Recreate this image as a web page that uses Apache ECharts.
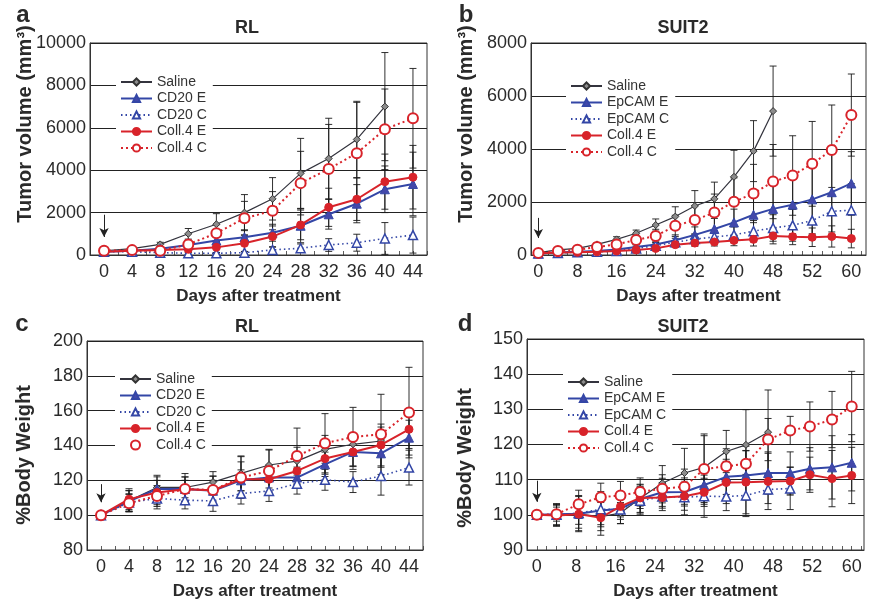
<!DOCTYPE html>
<html><head><meta charset="utf-8">
<script src="https://cdn.jsdelivr.net/npm/echarts@6/dist/echarts.min.js"></script>
<style>html,body{margin:0;padding:0;background:#fff}#c{width:874px;height:602px}</style>
</head><body><div id="c"></div>
<script>
// ---------- tick labels ----------
const xTicksAC = [0,4,8,12,16,20,24,28,32,36,40,44];
const xTickTextAC = ['0','4','8','12','16','20','24','28','32','36','40','44'];
const xTicksBD = [0,8,16,24,32,40,48,56,64];
const xTickTextBD = ['0','8','16','24','32','40','48','52','60'];

// ---------- panel a : RL tumor volume ----------
const daysA = [0,4,8,12,16,20,24,28,32,36,40,44];
const aSaline   = [200,300,500,1000,1450,2000,2650,3850,4550,5450,7000];
const aSalineSd = [30,60,100,250,500,850,1000,1650,1900,1800,2550];
const aCD20E    = [150,200,300,470,680,840,1050,1380,1920,2420,3100,3350];
const aCD20ESd  = [30,40,60,150,300,350,400,800,700,900,1100,1500];
const aCD20C    = [150,150,110,80,80,110,240,320,470,580,780,940];
const aCD20CSd  = [20,30,30,40,40,60,150,200,300,400,750,850];
const aCollE    = [150,200,230,270,360,550,870,1420,2250,2630,3460,3670];
const aCollESd  = [30,40,60,120,250,400,500,700,900,1000,1300,1500];
const aCollC    = [200,230,200,500,1030,1730,2090,3390,4060,4800,5930,6450];
const aCollCSd  = [30,50,80,200,400,800,900,1500,2100,2400,1900,2350];

// ---------- panel b : SUIT2 tumor volume ----------
const daysB = [0,4,8,12,16,20,24,28,32,36,40,44,48,52,56,60,64];
const bSaline   = [90,190,250,400,590,820,1130,1450,1850,2120,2950,3920,5430];
const bSalineSd = [20,30,40,60,100,120,230,370,580,630,1000,1150,1700];
const bEpE      = [60,90,120,150,210,300,400,560,760,980,1230,1520,1740,1900,2100,2370,2700];
const bEpESd    = [20,30,40,50,60,80,120,200,300,400,500,700,900,1100,1300,1500,1200];
const bEpC      = [60,80,100,120,150,250,350,480,600,680,760,900,1020,1120,1300,1650,1690];
const bEpCSd    = [20,30,30,40,50,60,100,150,200,250,300,400,500,600,700,900,1000];
const bCollE    = [60,90,100,120,150,190,250,390,450,490,550,590,720,690,670,700,620];
const bCollESd  = [20,30,30,40,50,60,80,100,120,150,200,250,300,300,350,400,350];
const bCollC    = [80,150,200,300,400,570,720,1100,1320,1600,2010,2320,2770,3000,3440,3960,5280];
const bCollCSd  = [20,40,60,80,120,180,250,400,550,700,900,1100,1400,1500,1600,1700,1550];

// ---------- panel c : RL body weight ----------
const daysC = [0,4,8,12,16,20,24,28,32,36,40,44];
const cSaline   = [100,108.2,115.9,115.9,119,124,128.8,131,137.8,140.7,142.6];
const cSalineSd = [0,6,7,8,6,10,9,8,8,6,8];
const cCD20E    = [100,108,115,115,114,120,121.6,121.6,129.2,136.3,135.5,144.5];
const cCD20ESd  = [0,6,7,7,6,6,6,6,7,8,8,10];
const cCD20C    = [100,107.3,109.6,108.6,108.2,112.4,113.9,118.1,120.3,119,122.5,127.3];
const cCD20CSd  = [0,5,6,5,6,6,6,6,6,6,11,10];
const cCollE    = [100,109.2,113,114.9,114.3,120.6,120.6,125.4,132.5,136.3,140.3,149.3];
const cCollESd  = [0,6,7,7,8,10,8,8,9,10,12,11];
const cCollC    = [100,106.9,111,115,114.5,121.6,125.4,134,141.3,144.9,146.4,158.9];
const cCollCSd  = [0,5,6,5,8,12,12,16,17,17,23,26];

// ---------- panel d : SUIT2 body weight ----------
const daysD = [0,4,8.5,13,17,21,25.5,30,34,38.5,42.5,47,51.5,55.5,60,64];
const dSaline   = [100,99.8,100.2,99.5,100.5,104.7,109,111.9,113.5,118,119.9,123.5];
const dSalineSd = [0,3,5,4,3,4,5,7,9,6,10,12];
const dEpE      = [100,100.2,100.3,101.2,101.7,104.5,106.4,106.5,108.5,110.8,111.2,111.9,111.9,113.1,113.5,114.8];
const dEpESd    = [0,2,3,4,3,4,4,4,5,5,7,6,6,6,9,8];
const dEpC      = [100,100,100.5,101.6,101.5,104,105.2,105,105.3,105.2,105.5,107.2,107.5];
const dEpCSd    = [0,3,5,5,4,4,4,5,6,4,6,4,6];
const dCollE    = [100,99.8,100.2,99.2,102.4,104.8,104.9,105.3,106.4,109.2,109.3,109.5,109.6,111.4,110.3,111.2];
const dCollESd  = [0,3,4,5,3,3,3,4,4,6,9,8,4,5,8,8];
const dCollC    = [100,100.2,103,105,105.5,106.5,107.4,108,113,113.8,114.5,121.4,124,125.1,127.1,130.8];
const dCollCSd  = [0,3,4,4,4,4,4,5,10,5,5,6,4,7,8,10];

// treatment arrows (value range on y axis at day 0)
const arrowA = [1900, 850];
const arrowB = [1400, 640];
const arrowC = [117.8, 107.4];
const arrowD = [109.7, 103.7];

// ---------- styles ----------
const ST = {
  saline: {color:'#34343e', width:1.2, type:'solid', symbol:'diamond', size:7, fill:'#8c8c8c', border:'#333', bw:1},
  E:      {color:'#3346a6', width:2, type:'solid', symbol:'triangle', size:9, fill:'#4348aa', border:'#3346a6', bw:1},
  C:      {color:'#3346a6', width:1.6, type:[1.5,3], symbol:'triangle', size:9, fill:'#fff', border:'#3346a6', bw:1.5},
  collE:  {color:'#d8232a', width:2, type:'solid', symbol:'circle', size:8, fill:'#d8232a', border:'#d8232a', bw:1},
  collC:  {color:'#d8232a', width:2, type:[2,3], symbol:'circle', size:10, fill:'#fff', border:'#d8232a', bw:2}
};
const FONT = 'Liberation Sans, Arial, Helvetica, sans-serif';

const series = [];
function addLine(p, name, days, vals, st, arrow) {
  const s = {
    type:'line', name, xAxisIndex:p, yAxisIndex:p, z:3,
    data: vals.map((v,i)=>[days[i], v]),
    symbol: st.symbol, symbolSize: st.size, showSymbol:true,
    lineStyle:{color:st.color, width:st.width, type:st.type},
    itemStyle:{color:st.fill, borderColor:st.border, borderWidth:st.bw},
    emphasis:{disabled:true}, animation:false
  };
  if (arrow) {
    s.markLine = {
      silent:true, symbol:['none','arrow'], symbolSize:[7,9],
      lineStyle:{color:'#222', width:1, type:'solid'}, label:{show:false},
      data:[[{coord:[0, arrow[0]]},{coord:[0, arrow[1]]}]]
    };
  }
  series.push(s);
}
function addErr(p, days, vals, sds) {
  series.push({
    type:'custom', name:'err', xAxisIndex:p, yAxisIndex:p, z:2, clip:true, silent:true,
    data: vals.map((v,i)=>[days[i], v, sds[i]]),
    encode:{x:0, y:1},
    renderItem(params, api) {
      const x = api.value(0), y = api.value(1), s = api.value(2);
      if (!s) return;
      const t = api.coord([x, y + s]), b = api.coord([x, y - s]);
      const c = 3.5, sty = {stroke:'#1a1a1a', lineWidth:0.9};
      return {type:'group', children:[
        {type:'line', shape:{x1:t[0], y1:t[1], x2:b[0], y2:b[1]}, style:sty},
        {type:'line', shape:{x1:t[0]-c, y1:t[1], x2:t[0]+c, y2:t[1]}, style:sty},
        {type:'line', shape:{x1:b[0]-c, y1:b[1], x2:b[0]+c, y2:b[1]}, style:sty}
      ]};
    },
    animation:false
  });
}
function panel(p, days, d, arrow) {
  d.forEach(r => addErr(p, days, r[1], r[2]));
  d.forEach((r,i) => addLine(p, r[0], days, r[1], r[3], i===0 ? arrow : null));
}

panel(0, daysA, [
  ['Saline', aSaline, aSalineSd, ST.saline],
  ['CD20 E', aCD20E, aCD20ESd, ST.E],
  ['CD20 C', aCD20C, aCD20CSd, ST.C],
  ['Coll.4 E', aCollE, aCollESd, ST.collE],
  ['Coll.4 C', aCollC, aCollCSd, ST.collC]], arrowA);
panel(1, daysB, [
  ['Saline', bSaline, bSalineSd, ST.saline],
  ['EpCAM E', bEpE, bEpESd, ST.E],
  ['EpCAM C', bEpC, bEpCSd, ST.C],
  ['Coll.4 E', bCollE, bCollESd, ST.collE],
  ['Coll.4 C', bCollC, bCollCSd, ST.collC]], arrowB);
panel(2, daysC, [
  ['Saline', cSaline, cSalineSd, ST.saline],
  ['CD20 E', cCD20E, cCD20ESd, ST.E],
  ['CD20 C', cCD20C, cCD20CSd, ST.C],
  ['Coll.4 E', cCollE, cCollESd, ST.collE],
  ['Coll.4 C', cCollC, cCollCSd, ST.collC]], arrowC);
panel(3, daysD, [
  ['Saline', dSaline, dSalineSd, ST.saline],
  ['EpCAM E', dEpE, dEpESd, ST.E],
  ['EpCAM C', dEpC, dEpCSd, ST.C],
  ['Coll.4 E', dCollE, dCollESd, ST.collE],
  ['Coll.4 C', dCollC, dCollCSd, ST.collC]], arrowD);

const grids = [
  {left:90, top:43, width:337, height:212},
  {left:531, top:43, width:335, height:212},
  {left:87, top:341, width:336, height:209},
  {left:527, top:339, width:337, height:211}
].map(g => Object.assign(g, {show:true, borderColor:'#333', borderWidth:1, backgroundColor:'transparent'}));

function minorTicks(from, to) { const a=[]; for (let v=from; v<=to; v+=2) a.push(v); return a; }
function xAxis(p, min, max, pos, txt) {
  return {
    type:'value', gridIndex:p, min, max,
    axisLine:{show:true, onZero:false, lineStyle:{color:'#333', width:1}},
    axisTick:{show:true, inside:true, length:4, customValues:minorTicks(0, max), lineStyle:{color:'#333', width:0.8}},
    axisLabel:{customValues:pos, formatter:v => txt[pos.indexOf(v)], fontSize:18, color:'#2a2a2a', margin:8, fontFamily:FONT},
    splitLine:{show:false},
    name:'Days after treatment', nameLocation:'middle', nameGap:33,
    nameTextStyle:{fontSize:17, fontWeight:'bold', color:'#2a2a2a', fontFamily:FONT}
  };
}
function yAxis(p, min, max, interval) {
  return {
    type:'value', gridIndex:p, min, max, interval,
    axisLine:{show:true, onZero:false, lineStyle:{color:'#333'}},
    axisTick:{show:false},
    axisLabel:{fontSize:18, color:'#2a2a2a', margin:4, fontFamily:FONT, formatter:v => String(v)},
    splitLine:{show:true, lineStyle:{color:'#222', width:1}}
  };
}

function legend(left, top, names, cIcon) {
  return {
    orient:'vertical', left, top, itemWidth:31, itemHeight:9, itemGap:2.5,
    padding:[3,6,3,4], backgroundColor:'#fff', z:10,
    textStyle:{fontSize:14, color:'#333', fontFamily:FONT, lineHeight:14},
    selectedMode:false,
    data: names.map(n => (cIcon && n === 'Coll.4 C') ? {name:n, icon:'emptyCircle', itemStyle:{color:'#d8232a', borderColor:'#d8232a', borderWidth:1.5}} : n)
  };
}

function txt(text, x, y, size, extra) {
  return Object.assign({type:'text', x, y, style:{text, fontSize:size, fontWeight:'bold', fill:'#2a2a2a', fontFamily:FONT, align:'center', verticalAlign:'middle'}}, extra||{});
}

const chart = echarts.init(document.getElementById('c'), null, {renderer:'canvas'});
chart.setOption({
  animation:false,
  backgroundColor:'#fff',
  grid: grids,
  xAxis: [xAxis(0,-2,46,xTicksAC,xTickTextAC), xAxis(1,-1.5,67,xTicksBD,xTickTextBD),
          xAxis(2,-2,46,xTicksAC,xTickTextAC), xAxis(3,-2,66.5,xTicksBD,xTickTextBD)],
  yAxis: [yAxis(0,0,10000,2000), yAxis(1,0,8000,2000), yAxis(2,80,200,20), yAxis(3,90,150,10)],
  legend: [
    legend(116, 72, ['Saline','CD20 E','CD20 C','Coll.4 E','Coll.4 C']),
    legend(566, 76, ['Saline','EpCAM E','EpCAM C','Coll.4 E','Coll.4 C']),
    legend(115, 369, ['Saline','CD20 E','CD20 C','Coll.4 E','Coll.4 C'], true),
    legend(563, 372, ['Saline','EpCAM E','EpCAM C','Coll.4 E','Coll.4 C'])
  ],
  graphic: [
    txt('a', 23, 15, 24), txt('b', 466, 15, 24), txt('c', 22, 324, 24), txt('d', 465, 324, 24),
    txt('RL', 247, 28, 18), txt('SUIT2', 683, 28, 18), txt('RL', 247, 327, 18), txt('SUIT2', 683, 327, 18),
    txt('Tumor volume (mm³)', 25, 124, 20, {rotation:Math.PI/2}),
    txt('Tumor volume (mm³)', 466, 124, 20, {rotation:Math.PI/2}),
    txt('%Body Weight', 24, 455, 20, {rotation:Math.PI/2}),
    txt('%Body Weight', 465, 458, 20, {rotation:Math.PI/2})
  ],
  series
});
</script></body></html>
